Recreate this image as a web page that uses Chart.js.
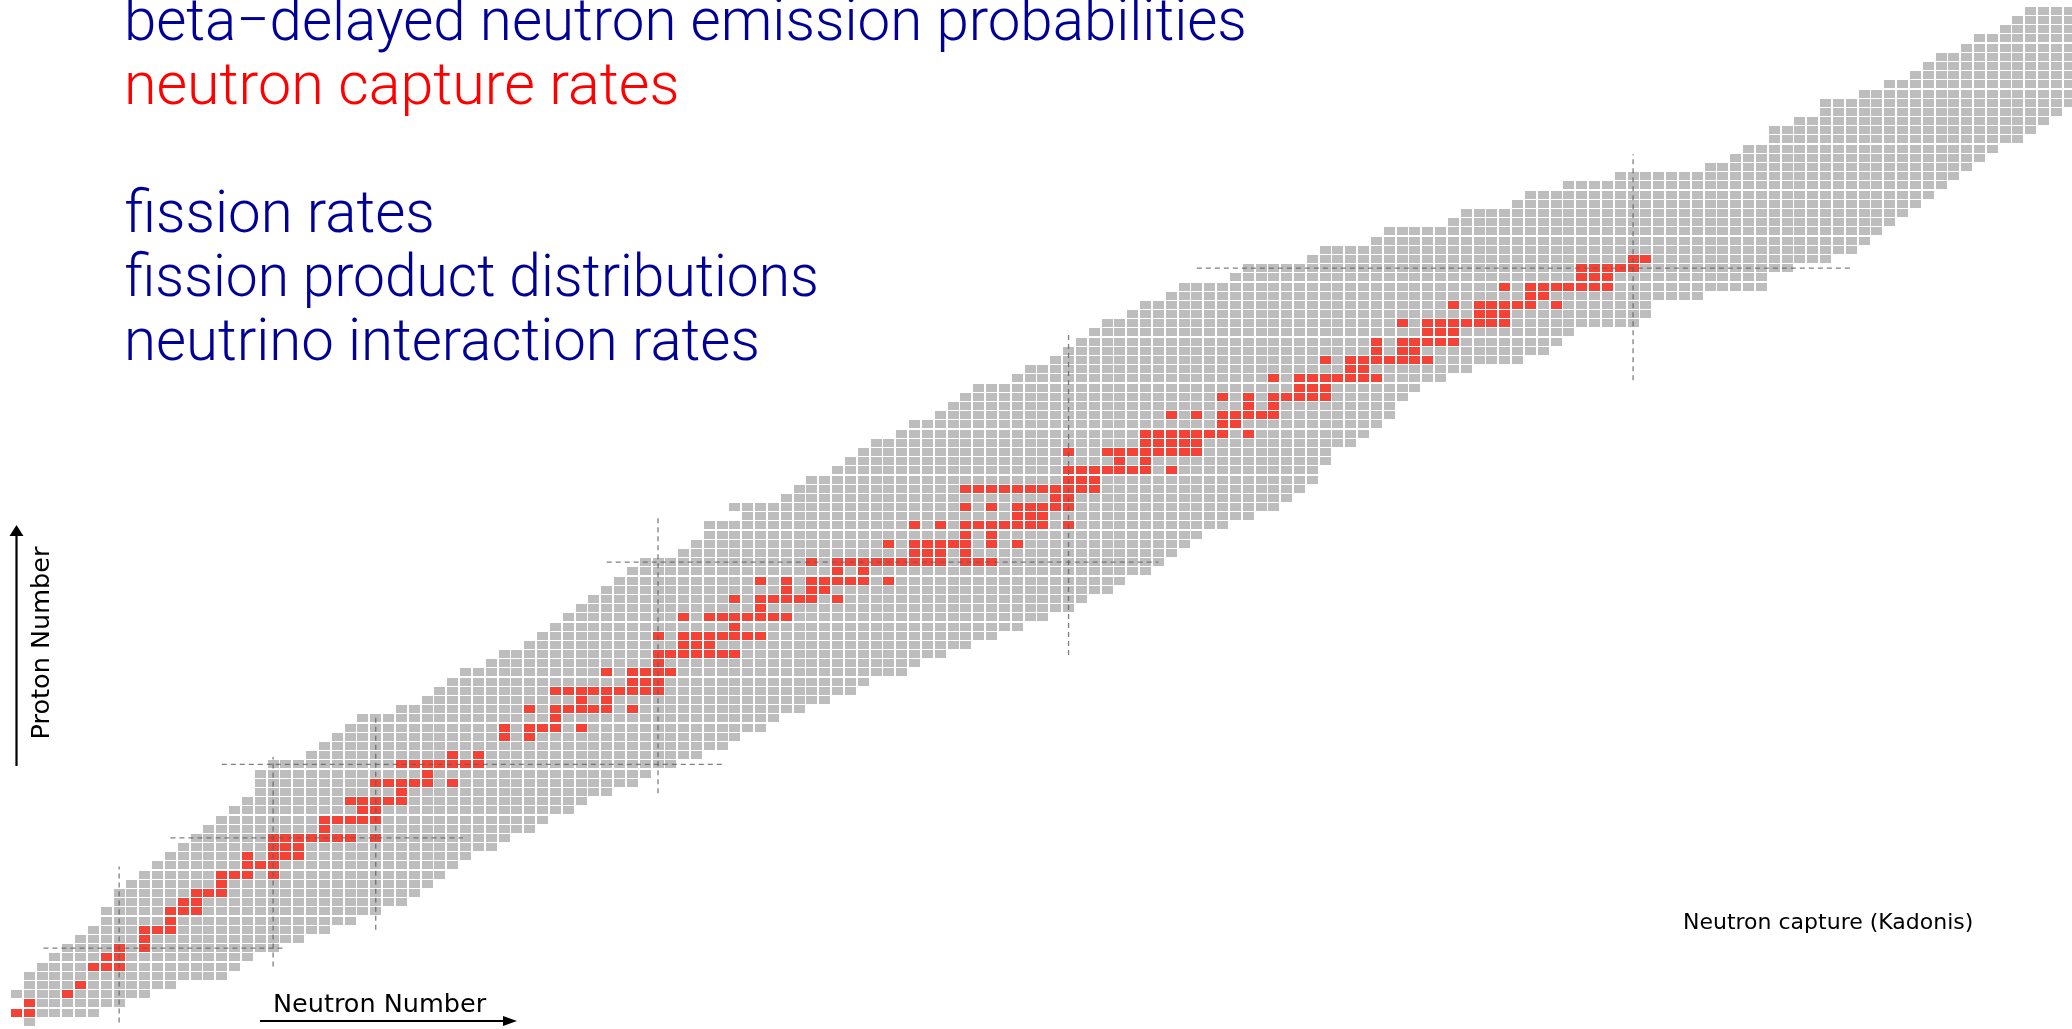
<!DOCTYPE html>
<html>
<head>
<meta charset="utf-8">
<title>Chart of nuclides - neutron capture</title>
<script src="https://cdn.jsdelivr.net/npm/chart.js@4.4.1/dist/chart.umd.min.js"></script>
<style>
  html, body { margin: 0; padding: 0; background: #fff; overflow: hidden; }
  #wrap { position: relative; width: 2072px; height: 1029px; }
</style>
</head>
<body>
<div id="wrap"><canvas id="chart" width="2072" height="1029"></canvas></div>
<script>
// grey band: lowest and highest neutron number for each proton number Z = 0..110
const nMin = [1, 0, 1, 0, 1, 1, 2, 3, 4, 5, 6, 7, 7, 8, 8, 9, 10, 11, 12, 13,
  14, 15, 16, 17, 18, 19, 19, 19, 20, 23, 24, 25, 26, 27, 30, 32, 33, 34, 35, 37,
  38, 40, 41, 42, 43, 44, 45, 46, 47, 48, 49, 52, 53, 54, 54, 57, 56, 60, 61, 62,
  64, 65, 66, 67, 69, 70, 72, 73, 74, 75, 78, 79, 81, 82, 83, 84, 85, 87, 88, 90,
  91, 95, 96, 101, 102, 106, 107, 112, 113, 117, 118, 121, 125, 132, 134, 135, 137, 137, 139, 141,
  141, 144, 146, 148, 149, 150, 152, 153, 155, 156, 157];
const nMax = [1, 6, 8, 10, 12, 16, 17, 18, 20, 22, 24, 26, 28, 30, 31, 32, 33, 34, 35, 37,
  38, 40, 41, 43, 44, 46, 48, 49, 51, 53, 55, 56, 58, 59, 61, 63, 65, 66, 69, 70,
  72, 74, 76, 78, 80, 82, 83, 85, 86, 88, 89, 90, 91, 92, 94, 96, 98, 99, 100, 101,
  101, 102, 102, 104, 105, 106, 107, 107, 108, 109, 111, 113, 117, 119, 120, 121, 126, 127, 127, 131,
  136, 136, 138, 141, 143, 144, 145, 146, 147, 148, 149, 150, 151, 152, 153, 154, 156, 157, 158, 159,
  160, 160, 160, 160, 160, 160, 160, 160, 160, 160, 160];

// red cells: Kadonis neutron capture nuclides, proton number and its neutron numbers
const redZ = [1, 2, 3, 4, 6, 7, 8, 9, 10, 11, 12, 13, 14, 15, 16, 17, 18, 19, 20, 21,
  22, 23, 24, 25, 26, 27, 28, 29, 31, 32, 33, 34, 35, 36, 37, 38, 39, 40, 41, 42,
  43, 44, 45, 46, 47, 48, 49, 50, 51, 52, 53, 54, 55, 56, 57, 58, 59, 60, 61, 62,
  63, 64, 65, 66, 67, 68, 69, 70, 71, 72, 73, 74, 75, 76, 77, 78, 79, 80, 81, 82, 83];
const redN = [
  [0, 1], [1], [4], [5], [6, 7, 8], [7, 8], [8, 10], [10], [10, 11, 12], [12],
  [12, 13, 14], [13, 14], [14, 15, 16], [16], [16, 17, 18, 20], [18, 19, 20],
  [18, 20, 21, 22], [20, 21, 22], [20, 21, 22, 23, 24, 25, 26, 28], [24],
  [24, 25, 26, 27, 28], [27, 28], [26, 27, 28, 29, 30], [30], [28, 29, 30, 31, 32, 34],
  [32], [30, 31, 32, 33, 34, 35, 36], [34, 36], [38, 40], [38, 40, 41, 42, 44],
  [42], [40, 42, 43, 44, 45, 46, 48], [44, 46], [42, 43, 44, 45, 46, 47, 48, 49, 50],
  [48, 49, 50], [46, 48, 49, 50, 51], [50], [50, 51, 52, 53, 54, 55, 56], [52, 53, 54],
  [50, 52, 53, 54, 55, 56, 57, 58], [56], [52, 54, 55, 56, 57, 58, 59, 60], [58],
  [56, 58, 59, 60, 61, 62, 64], [60, 62, 63], [58, 60, 62, 63, 64, 65, 66, 68], [64, 66],
  [62, 64, 65, 66, 67, 68, 69, 70, 71, 72, 74, 75, 76], [70, 71, 72, 74],
  [68, 70, 71, 72, 73, 74, 76, 78], [74, 76], [70, 72, 74, 75, 76, 77, 78, 79, 80, 82],
  [78, 79, 80], [74, 76, 78, 79, 80, 81, 82], [81, 82],
  [74, 75, 76, 77, 78, 79, 80, 81, 82, 83, 84], [82, 83, 84],
  [82, 83, 84, 85, 86, 87, 88, 90], [86, 88], [82, 85, 86, 87, 88, 89, 90, 91, 92],
  [88, 89, 90, 91, 92], [88, 89, 90, 91, 92, 93, 94, 96], [94, 95],
  [90, 92, 94, 95, 96, 97, 98], [96, 98], [94, 96, 98, 99, 100, 101, 102], [100, 101, 102],
  [98, 100, 101, 102, 103, 104, 105, 106], [104, 105], [102, 104, 105, 106, 107, 108, 109, 110],
  [106, 108, 109], [106, 108, 109, 110, 111, 112], [110, 111, 112],
  [108, 110, 111, 112, 113, 114, 115, 116], [114, 115, 116], [112, 114, 115, 116, 117, 118, 120],
  [118, 119], [116, 118, 119, 120, 121, 122, 123, 124], [122, 123, 124],
  [122, 123, 124, 125, 126], [126, 127]
];

// magic numbers, drawn as dashed guide lines
const magicN = [8, 20, 28, 50, 82, 126];
const magicNFromZ = [-0.1, 6, 10, 24.85, 39.9, 69.8];
const magicNToZ = [16.9, 28.8, 33.4, 54.95, 74.8, 94.4];
const magicZ = [8, 20, 28, 50, 82];
const magicZFromN = [2.1, 12, 16, 46, 92];
const magicZToN = [21, 34.8, 55, 89, 142.9];

const headLines = ["beta\u2212delayed neutron emission probabilities", "neutron capture rates", "",
  "fission rates", "fission product distributions", "neutrino interaction rates"];
const headColors = ["#000096", "#ff0000", "#000096", "#000096", "#000096", "#000096"];
// left and right ink edge of each heading line, in page pixels
const headInkLeft = [127.9, 127.9, 0, 125.7, 125.7, 127.9];
const headInkRight = [1244, 676.5, 0, 432, 816, 757];

const GREY = "#bdbdbd";
const RED = "#f44336";

function cellSprite(color) {
  var c = document.createElement("canvas");
  c.width = 11;
  c.height = 8;
  var g = c.getContext("2d");
  g.fillStyle = color;
  g.fillRect(0, 0, 11, 8);
  return c;
}

var greyCells = [];
nMin.forEach(function (lo, z) {
  for (var n = lo; n <= nMax[z]; n++) greyCells.push({ x: n, y: z });
});
var redCells = [];
redZ.forEach(function (z, i) {
  redN[i].forEach(function (n) { redCells.push({ x: n, y: z }); });
});

var datasets = [
  { label: "nuclides", data: greyCells, pointStyle: cellSprite(GREY), pointRadius: 1, order: 3 },
  { label: "Neutron capture (Kadonis)", data: redCells, pointStyle: cellSprite(RED), pointRadius: 1, order: 2 }
];
magicN.forEach(function (n, i) {
  datasets.push({
    data: [{ x: n, y: magicNFromZ[i] }, { x: n, y: magicNToZ[i] }],
    showLine: true, borderColor: "rgba(95,95,95,0.8)", borderWidth: 1.3,
    borderDash: [5, 4], pointRadius: 0, order: 1
  });
});
magicZ.forEach(function (z, i) {
  datasets.push({
    data: [{ x: magicZFromN[i], y: z }, { x: magicZToN[i], y: z }],
    showLine: true, borderColor: "rgba(95,95,95,0.8)", borderWidth: 1.3,
    borderDash: [5, 4], pointRadius: 0, order: 1
  });
});

// texts and axis arrows
const labelsPlugin = {
  id: "labels",
  afterDraw: function (chart) {
    var ctx = chart.ctx;
    ctx.save();
    ctx.textBaseline = "alphabetic";
    ctx.font = '300 59px Roboto, "Liberation Sans", sans-serif';
    headLines.forEach(function (t, i) {
      if (!t) return;
      var m = ctx.measureText(t);
      var inkW = m.actualBoundingBoxLeft + m.actualBoundingBoxRight;
      var sx = (headInkRight[i] - headInkLeft[i]) / inkW;
      ctx.save();
      ctx.translate(headInkLeft[i], 40 + 64 * i);
      ctx.scale(sx, 1);
      ctx.fillStyle = headColors[i];
      ctx.fillText(t, m.actualBoundingBoxLeft, 0);
      ctx.restore();
    });

    ctx.fillStyle = "#000";
    ctx.strokeStyle = "#000";
    ctx.font = '25.5px "DejaVu Sans", sans-serif';
    ctx.fillText("Neutron Number", 273, 1012);
    ctx.font = '22px "DejaVu Sans", sans-serif';
    ctx.fillText("Neutron capture (Kadonis)", 1683, 929);

    ctx.save();
    ctx.translate(49, 643);
    ctx.rotate(-Math.PI / 2);
    ctx.font = '25.5px "DejaVu Sans", sans-serif';
    ctx.textAlign = "center";
    ctx.fillText("Proton Number", 0, 0);
    ctx.restore();

    // proton arrow
    ctx.lineWidth = 2.2;
    ctx.beginPath();
    ctx.moveTo(16.5, 766);
    ctx.lineTo(16.5, 534);
    ctx.stroke();
    ctx.beginPath();
    ctx.moveTo(16.5, 525);
    ctx.lineTo(9.5, 536);
    ctx.lineTo(23.5, 536);
    ctx.closePath();
    ctx.fill();

    // neutron arrow
    ctx.beginPath();
    ctx.moveTo(260, 1021);
    ctx.lineTo(506, 1021);
    ctx.stroke();
    ctx.beginPath();
    ctx.moveTo(517, 1021);
    ctx.lineTo(503, 1016);
    ctx.lineTo(503, 1026);
    ctx.closePath();
    ctx.fill();
    ctx.restore();
  }
};

var ctx = document.getElementById("chart").getContext("2d");
var myChart = new Chart(ctx, {
  type: "scatter",
  data: { datasets: datasets },
  options: {
    responsive: false,
    devicePixelRatio: 1,
    animation: false,
    events: [],
    layout: { padding: 0, autoPadding: false },
    plugins: { legend: { display: false }, tooltip: { enabled: false }, title: { display: false } },
    scales: {
      x: { type: "linear", min: -1.286, max: 160.21, display: false },
      y: { type: "linear", min: -0.794, max: 111.18, display: false }
    }
  },
  plugins: [labelsPlugin]
});
</script>
</body>
</html>
